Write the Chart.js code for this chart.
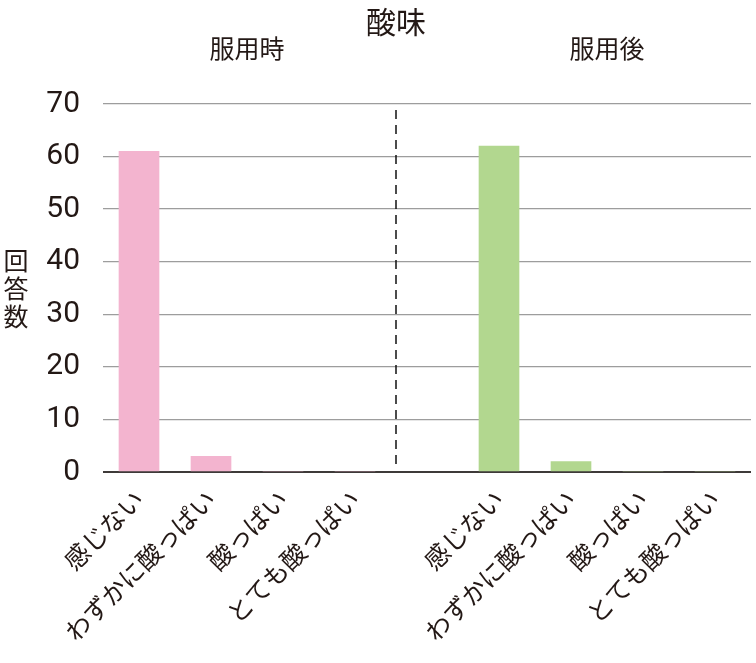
<!DOCTYPE html>
<html lang="ja">
<head>
<meta charset="utf-8">
<title>酸味</title>
<script src="https://cdn.jsdelivr.net/npm/chart.js@4.4.1/dist/chart.umd.min.js"></script>
<style>
  html, body { margin: 0; padding: 0; background: #fff; }
  #wrap { width: 756px; height: 663px; position: relative; }
</style>
</head>
<body>
<div id="wrap"><canvas id="chart"></canvas></div>
<script>
// values
const chartTitle = "酸味";
const groupTitles = ["服用時", "服用後"];
const categories = ["感じない", "わずかに酸っぱい", "酸っぱい", "とても酸っぱい"];
const beforeValues = [61, 3, 0, 0];
const afterValues = [62, 2, 0, 0];
const yTicks = [0, 10, 20, 30, 40, 50, 60, 70];
const yTitle = ["回", "答", "数"];

const textColor = "#231815";
const jpFont = "'Noto Sans CJK JP', 'Noto Sans', sans-serif";
const numFont = "Roboto, 'Liberation Sans', Arial, sans-serif";

// one empty slot between the two groups
const n = categories.length;
const labels = [...categories, "", ...categories];
const beforeData = labels.map((_, i) => i < n ? beforeValues[i] : null);
const afterData = labels.map((_, i) => i > n ? afterValues[i - n - 1] : null);

// titles, divider and the stacked y title
const decorations = {
  id: "decorations",
  afterDraw(chart) {
    const { ctx, chartArea, scales: { x } } = chart;
    const divX = (x.getPixelForValue(n - 1) + x.getPixelForValue(n)) / 2 + 5;
    const leftMid = (x.getPixelForValue(0) + x.getPixelForValue(n - 1)) / 2;
    const rightMid = (x.getPixelForValue(n + 1) + x.getPixelForValue(2 * n)) / 2;

    ctx.save();
    ctx.strokeStyle = "#111";
    ctx.lineWidth = 1.5;
    ctx.setLineDash([9, 6]);
    ctx.beginPath();
    ctx.moveTo(divX, chartArea.top + 6);
    ctx.lineTo(divX, chartArea.bottom - 6);
    ctx.stroke();
    ctx.setLineDash([]);

    ctx.fillStyle = textColor;
    ctx.textAlign = "center";
    ctx.textBaseline = "middle";
    ctx.font = "400 30px " + jpFont;
    ctx.fillText(chartTitle, divX, 22);
    ctx.font = "400 25px " + jpFont;
    ctx.fillText(groupTitles[0], leftMid, 48);
    ctx.fillText(groupTitles[1], rightMid, 48);

    ctx.font = "400 25px " + jpFont;
    const cy = (chartArea.top + chartArea.bottom) / 2;
    yTitle.forEach((ch, i) => {
      ctx.fillText(ch, 16, cy + (i - 1) * 28);
    });
    ctx.restore();
  }
};

new Chart(document.getElementById("chart"), {
  type: "bar",
  data: {
    labels,
    datasets: [
      { label: groupTitles[0], data: beforeData, backgroundColor: "#f3b4cf" },
      { label: groupTitles[1], data: afterData, backgroundColor: "#b2d78f" }
    ]
  },
  options: {
    responsive: true,
    maintainAspectRatio: false,
    animation: false,
    layout: { padding: { top: 104, right: 5, left: 0, bottom: 0 } },
    datasets: { bar: { grouped: false, barThickness: 40 } },
    plugins: { legend: { display: false }, tooltip: { enabled: false } },
    scales: {
      x: {
        afterFit: s => { s.height = 191; },
        border: { display: false },
        grid: { display: false, drawTicks: false },
        ticks: {
          autoSkip: false, maxRotation: 45, minRotation: 45, padding: 12,
          color: textColor, font: { family: jpFont, size: 25, weight: 400 }
        }
      },
      y: {
        min: 0, max: 70,
        afterBuildTicks: s => { s.ticks = yTicks.map(v => ({ value: v })); },
        afterFit: s => { s.width = 103; },
        border: { display: false },
        grid: {
          drawTicks: false,
          color: c => c.tick.value === 0 ? "#3e3a39" : "#9d9d9d",
          lineWidth: c => c.tick.value === 0 ? 2 : 1.3
        },
        ticks: { padding: 23, color: textColor, font: { family: numFont, size: 30, weight: 400 } }
      }
    }
  },
  plugins: [decorations]
});
</script>
</body>
</html>
